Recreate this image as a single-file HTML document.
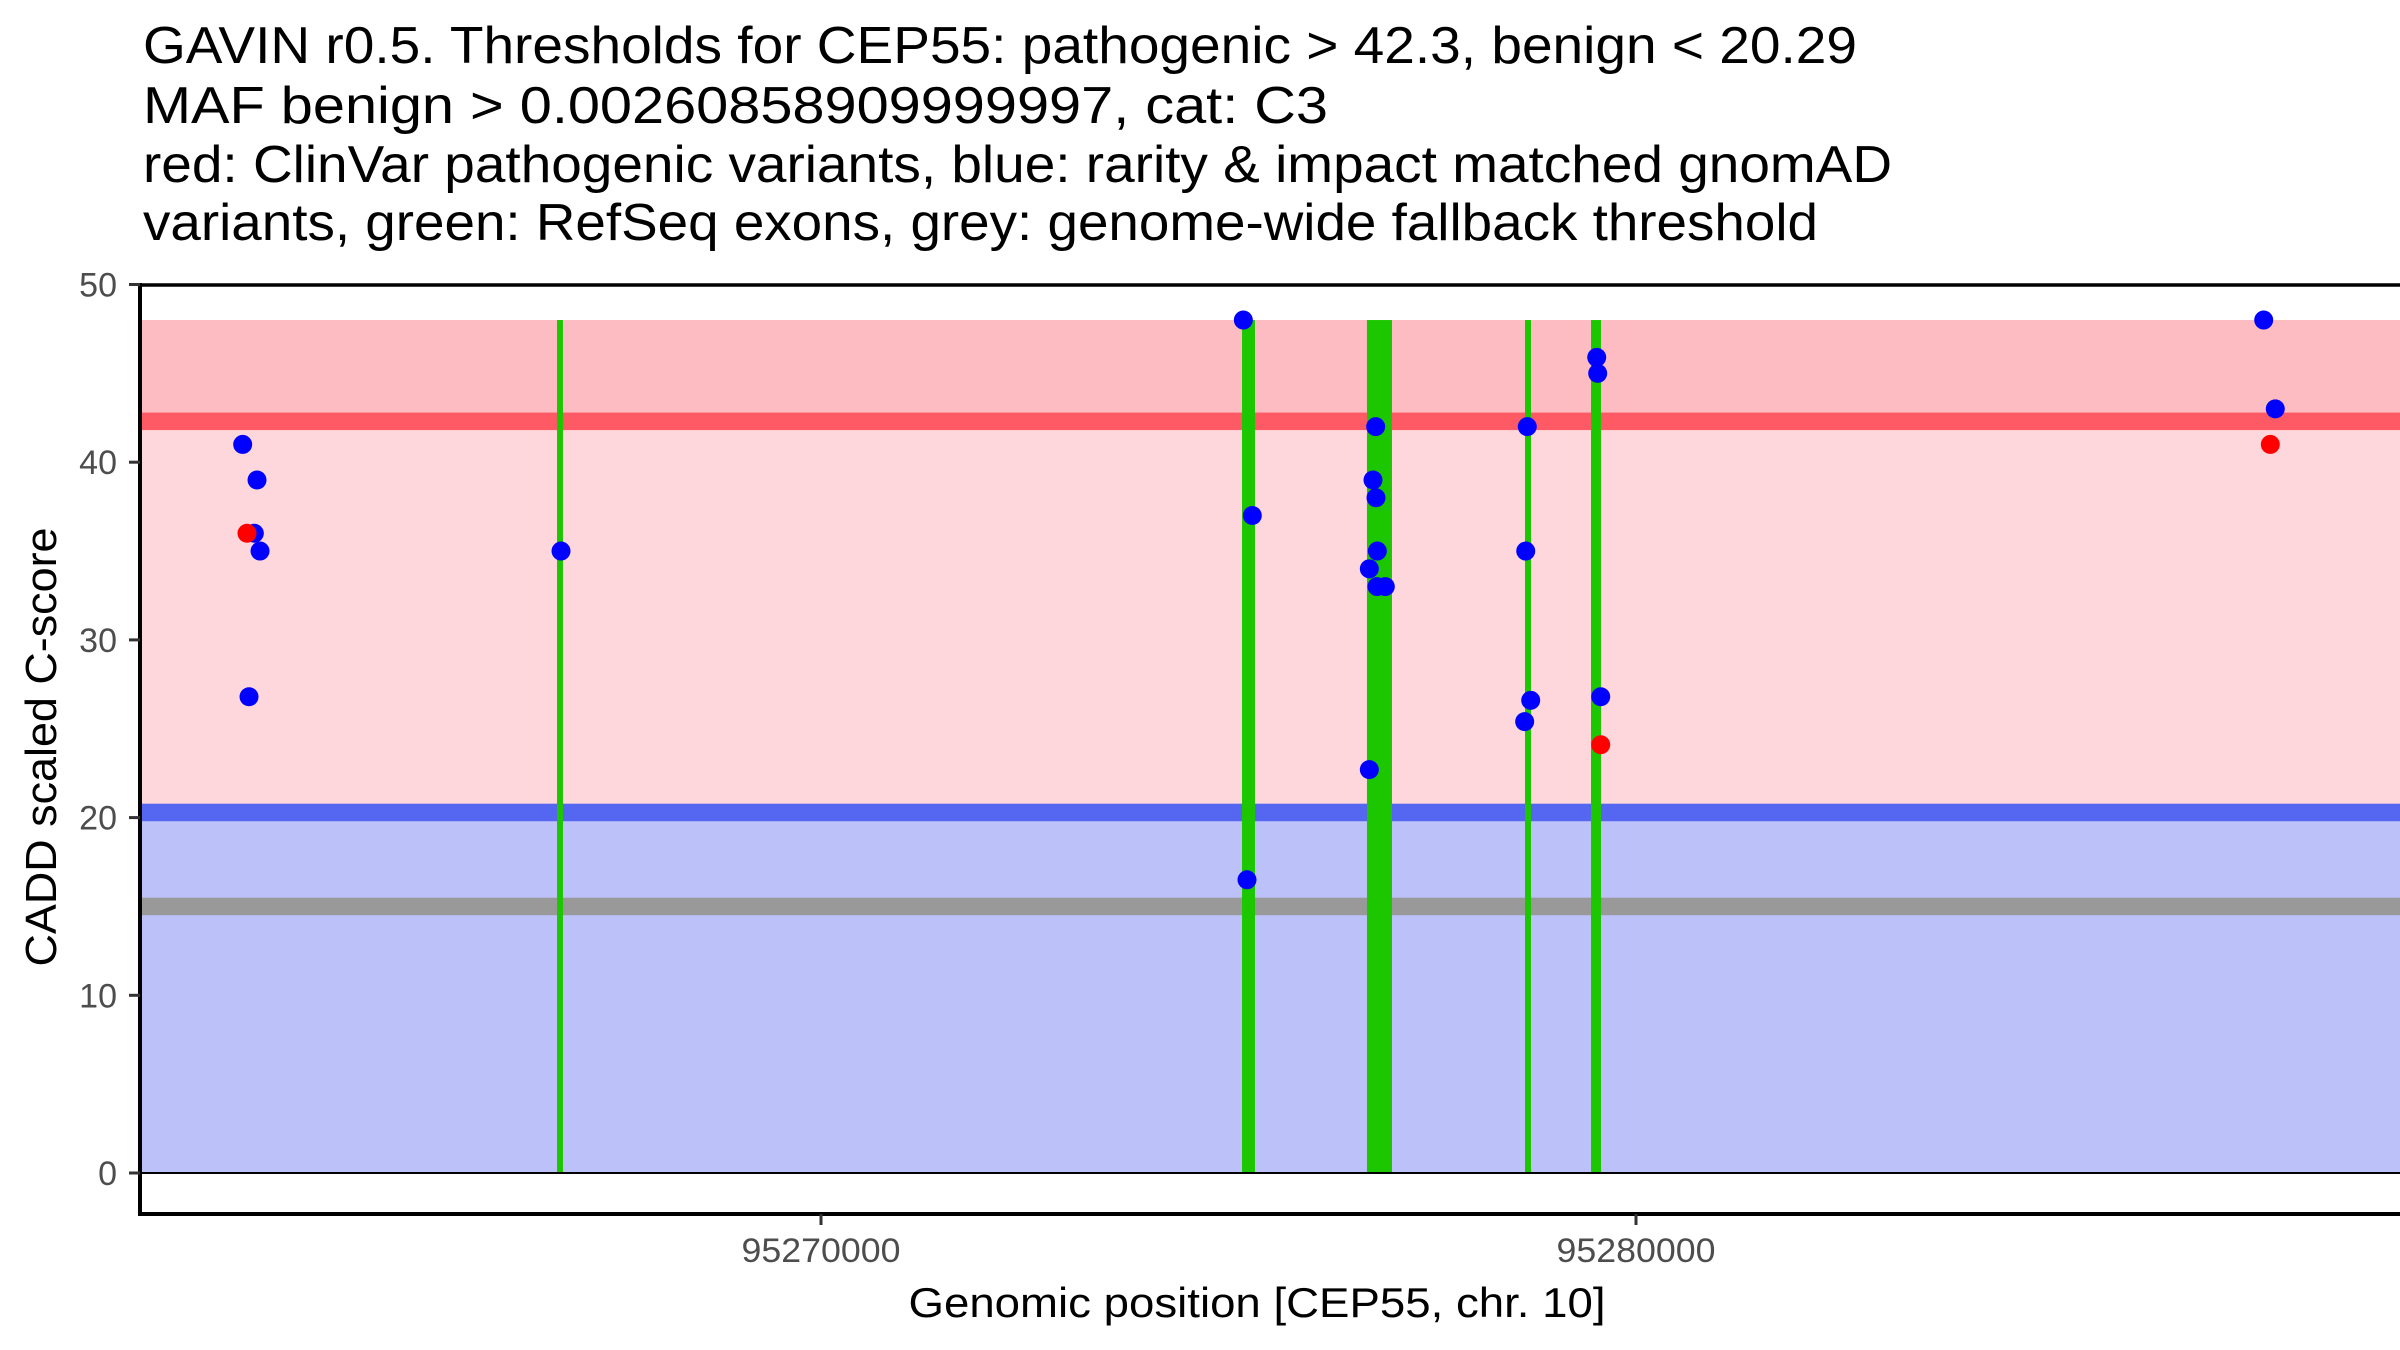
<!DOCTYPE html>
<html><head><meta charset="utf-8"><style>html,body{margin:0;padding:0;background:#fff}svg{display:block}text{font-family:"Liberation Sans",Arial,sans-serif}</style></head>
<body>
<svg id="chart" width="2400" height="1350" viewBox="0 0 2400 1350" xmlns="http://www.w3.org/2000/svg">
<g font-size="52" fill="#000">
<text x="143" y="63" textLength="1714" lengthAdjust="spacingAndGlyphs">GAVIN r0.5. Thresholds for CEP55: pathogenic &gt; 42.3, benign &lt; 20.29</text>
<text x="143" y="123" textLength="1185" lengthAdjust="spacingAndGlyphs">MAF benign &gt; 0.00260858909999997, cat: C3</text>
<text x="143" y="182" textLength="1749" lengthAdjust="spacingAndGlyphs">red: ClinVar pathogenic variants, blue: rarity &amp; impact matched gnomAD</text>
<text x="143" y="240" textLength="1675" lengthAdjust="spacingAndGlyphs">variants, green: RefSeq exons, grey: genome-wide fallback threshold</text>
</g>
<g id="plot"></g>
</svg>
<script>
const yTicks=[0,10,20,30,40,50];
const xTicks=[95270000,95280000];
const thresholds=[42.3,20.29,15];
const bandTop=[48];
const exonStart=[95266761,95275166,95276699,95278638,95279448];
const exonEnd=[95266834,95275325,95277006,95278712,95279571];
const bluePos=[95262904,95263080,95263047,95263117,95262982,95266810,95275182,95275292,95275227,95276806,95276773,95276810,95276826,95276728,95276822,95276924,95276728,95278666,95278647,95278708,95278634,95279518,95279530,95279567,95287702,95287844];
const blueScore=[41,39,36,35,26.8,35,48,37,16.5,42,39,38,35,34,33,33,22.7,42,35,26.6,25.4,45.9,45,26.8,48,43];
const redPos=[95262957,95279567,95287783];
const redScore=[36,24.1,41];

const NS="http://www.w3.org/2000/svg";
const g=document.getElementById('plot');
const L=140,R=2400,T=285,B=1214;
const y=v=>1173-(v)*17.77;
const x=p=>821+(p-95270000)*0.0815;
function mk(tag,attrs){const e=document.createElementNS(NS,tag);for(const k in attrs)e.setAttribute(k,attrs[k]);g.appendChild(e);return e;}

let e;
e=mk('rect',{x:L,y:y(bandTop[0]),width:R-L,height:y(thresholds[0])-y(bandTop[0]),fill:'#fdbcc1'});


e=mk('rect',{x:L,y:y(thresholds[0]),width:R-L,height:y(thresholds[1])-y(thresholds[0]),fill:'#fdd7db'});


e=mk('rect',{x:L,y:y(thresholds[1]),width:R-L,height:y(0)-y(thresholds[1]),fill:'#bcc1f9'});


const tcol=['#fd5a66','#5566f0','#999999'];
const tnames=['pathogenic-threshold-line','benign-threshold-line','fallback-threshold-line'];
thresholds.forEach((t,i)=>{
  e=mk('rect',{x:L,y:y(t)-8.75,width:R-L,height:17.5,fill:tcol[i]});
  
  
});
exonStart.forEach((s,i)=>{
  const x0=x(s),x1=x(exonEnd[i]);
  e=mk('rect',{x:x0,y:y(bandTop[0]),width:Math.max(5,x1-x0),height:y(0)-y(bandTop[0]),fill:'#1cc700'});
  
  
});
e=mk('line',{x1:L,x2:R,y1:y(0),y2:y(0),stroke:'#000','stroke-width':2});


e=mk('line',{x1:L,x2:R,y1:T,y2:T,stroke:'#000','stroke-width':3.5});


bluePos.forEach((p,i)=>{
  e=mk('circle',{cx:x(p),cy:y(blueScore[i]),r:9.5,fill:'#0000ff'});
  
  
});
redPos.forEach((p,i)=>{
  e=mk('circle',{cx:x(p),cy:y(redScore[i]),r:9.5,fill:'#ff0000'});
  
  
});
e=mk('line',{x1:L,x2:L,y1:T-2,y2:B+2,stroke:'#000','stroke-width':4});


e=mk('line',{x1:L,x2:R,y1:B,y2:B,stroke:'#000','stroke-width':4});


yTicks.forEach(v=>{
  e=mk('line',{x1:L-11,x2:L,y1:y(v),y2:y(v),stroke:'#333','stroke-width':3});
  
  
  e=mk('text',{x:117,y:y(v)+12,'text-anchor':'end','font-size':34,fill:'#4d4d4d'});
  e.textContent=v;
  
  
});
xTicks.forEach(v=>{
  e=mk('line',{x1:x(v),x2:x(v),y1:B,y2:B+11,stroke:'#333','stroke-width':3});
  
  
  e=mk('text',{x:x(v),y:1262,'text-anchor':'middle','font-size':34,fill:'#4d4d4d',textLength:159,lengthAdjust:'spacingAndGlyphs'});
  e.textContent=v;
  
  
});
e=mk('text',{x:1257,y:1317,'text-anchor':'middle','font-size':42,fill:'#000',textLength:697,lengthAdjust:'spacingAndGlyphs'});
e.textContent='Genomic position [CEP55, chr. 10]';


e=mk('text',{x:0,y:0,'text-anchor':'middle','font-size':44,fill:'#000',textLength:439,lengthAdjust:'spacingAndGlyphs',transform:'translate(56,747) rotate(-90)'});
e.textContent='CADD scaled C-score';


</script>
</body></html>
